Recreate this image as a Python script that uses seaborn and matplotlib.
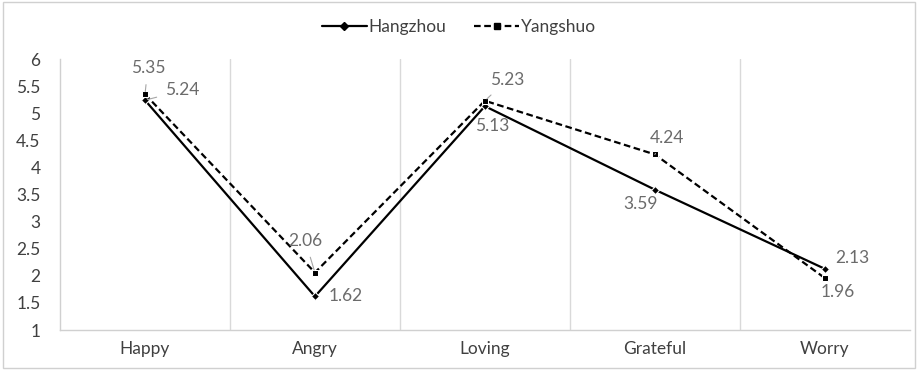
import matplotlib
matplotlib.use("Agg")
import matplotlib.pyplot as plt
from matplotlib.lines import Line2D
import seaborn as sns
import pandas as pd

categories = ["Happy", "Angry", "Loving", "Grateful", "Worry"]
hangzhou = [5.24, 1.62, 5.13, 3.59, 2.13]
yangshuo = [5.35, 2.06, 5.23, 4.24, 1.96]
series_names = ["Hangzhou", "Yangshuo"]
y_ticks = [1, 1.5, 2, 2.5, 3, 3.5, 4, 4.5, 5, 5.5, 6]

sns.set_style("white")
plt.rcParams["font.family"] = ["Lato", "DejaVu Sans"]

df = pd.DataFrame({
    "x": list(range(len(categories))) * 2,
    "value": hangzhou + yangshuo,
    "city": [series_names[0]] * len(categories) + [series_names[1]] * len(categories),
})

fig = plt.figure(figsize=(9.18, 3.70), dpi=100)
ax = fig.add_axes([0.0654, 0.108, 0.9256, 0.7325])

sns.lineplot(
    data=df, x="x", y="value", hue="city", style="city",
    palette={"Hangzhou": "black", "Yangshuo": "black"},
    dashes={"Hangzhou": (None, None), "Yangshuo": (3, 1.6)},
    markers={"Hangzhou": "D", "Yangshuo": "s"},
    markersize=5, linewidth=1.6, ax=ax, legend=False,
)
for line in ax.lines:
    if line.get_marker() == "D":
        line.set_markersize(4)

ax.set_xlim(-0.5, len(categories) - 0.5)
ax.set_ylim(1, 6)
ax.set_yticks(y_ticks)
ax.set_yticklabels([f"{t:g}" for t in y_ticks])
ax.set_xticks(range(len(categories)))
ax.set_xticklabels(categories)
ax.set_xlabel("")
ax.set_ylabel("")
ax.tick_params(axis="both", length=0, labelsize=12.5, colors="#404040")
ax.tick_params(axis="x", pad=8)
ax.tick_params(axis="y", pad=14)

for b in range(1, len(categories)):
    ax.axvline(b - 0.5, color="#d9d9d9", lw=1, zorder=0)

for side in ["top", "right"]:
    ax.spines[side].set_visible(False)
for side in ["left", "bottom"]:
    ax.spines[side].set_color("#d0d0d0")
    ax.spines[side].set_linewidth(1)

# value labels: (series values, index, offset in points, leader line)
label_color = "#6b6b6b"
label_specs = [
    (yangshuo, 0, (2, 19), True),
    (hangzhou, 0, (27, 7), True),
    (yangshuo, 1, (-7, 23), True),
    (hangzhou, 1, (22, 0), False),
    (yangshuo, 2, (16, 15), True),
    (hangzhou, 2, (5, -14), False),
    (yangshuo, 3, (9, 12), True),
    (hangzhou, 3, (-10, -10), False),
    (hangzhou, 4, (20, 8), False),
    (yangshuo, 4, (9, -10), False),
]
for vals, i, off, leader in label_specs:
    v = vals[i]
    kw = {}
    if leader:
        kw["arrowprops"] = dict(arrowstyle="-", color="#a6a6a6", lw=0.8,
                                shrinkA=4, shrinkB=2)
    ax.annotate(f"{v:.2f}", xy=(i, v), xytext=off, textcoords="offset points",
                ha="center", va="center", fontsize=12.5, color=label_color, **kw)

# legend
handles = [
    Line2D([], [], color="black", lw=1.6, marker="D", markersize=4),
    Line2D([], [], color="black", lw=1.6, ls=(0, (3, 1.6)), marker="s", markersize=5),
]
fig.legend(handles, series_names, loc="center", bbox_to_anchor=(0.5, 0.927),
           ncol=2, frameon=False, fontsize=12.5, handlelength=2.6,
           handletextpad=0.1, columnspacing=1.6, labelcolor="#404040")

# outer border
fig.patches.append(plt.Rectangle((0.003, 0.005), 0.994, 0.99, transform=fig.transFigure,
                                 fill=False, edgecolor="#d0d0d0", lw=1))

fig.savefig("out.png", dpi=100)
